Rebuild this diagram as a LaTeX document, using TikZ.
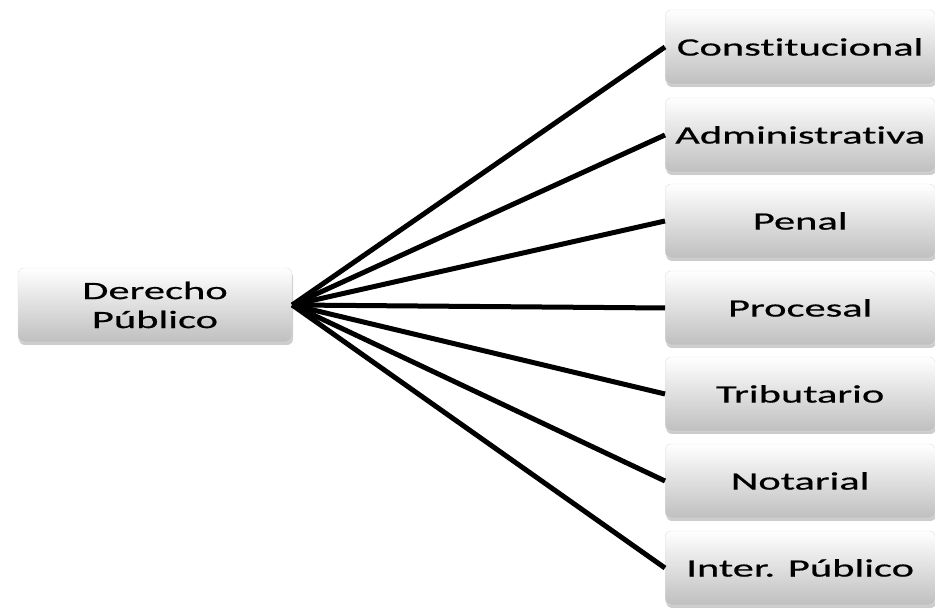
\documentclass[tikz,border=0pt]{standalone}
\usepackage{fontspec}
\setmainfont{Carlito}[FakeStretch=1.7, FakeBold=0.6, Ligatures=NoCommon]
\usetikzlibrary{shadows}

\begin{document}
\begin{tikzpicture}[x=1pt, y=1pt,
    caja/.style={rounded corners=6pt, draw=black!12, top color=white, bottom color=black!25,
      drop shadow={shadow xshift=1pt, shadow yshift=-3pt, opacity=0.4},
      align=center, font=\fontsize{25}{29}\selectfont, inner sep=0pt},
    rama/.style={caja, anchor=west, minimum width=270pt, minimum height=74pt},
    linea/.style={line width=5pt, black}]
        \useasboundingbox (0,0) rectangle (935,609);
        \node [caja, minimum width=274pt, minimum height=74pt] (0) at (155,304) {Derecho\\Público};
        \node [rama] (1) at (665,562) {Constitucional};
        \node [rama] (2) at (665,474) {Administrativa};
        \node [rama] (3) at (665,388) {Penal};
        \node [rama] (4) at (665,301) {Procesal};
        \node [rama] (5) at (665,215) {Tributario};
        \node [rama] (6) at (665,128) {Notarial};
        \node [rama] (7) at (665,41) {Inter. Público};

        \draw[linea] (0.east) -- (1.west);
        \draw[linea] (0.east) -- (2.west);
        \draw[linea] (0.east) -- (3.west);
        \draw[linea] (0.east) -- (4.west);
        \draw[linea] (0.east) -- (5.west);
        \draw[linea] (0.east) -- (6.west);
        \draw[linea] (0.east) -- (7.west);
      \end{tikzpicture}
\end{document}
